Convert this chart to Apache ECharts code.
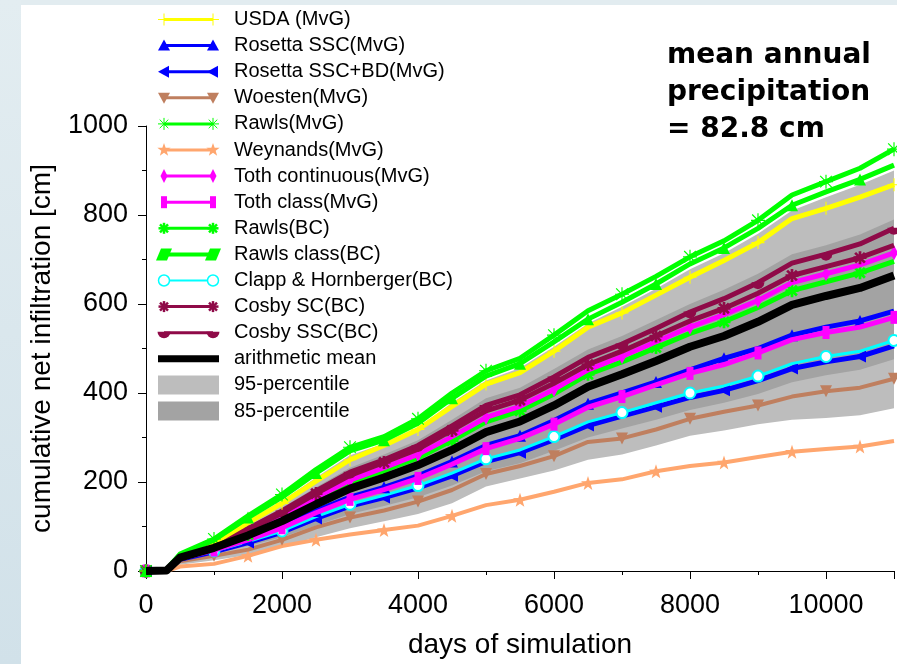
<!DOCTYPE html>
<html><head><meta charset="utf-8">
<script src="https://cdn.jsdelivr.net/npm/echarts@6/dist/echarts.min.js"></script>
<style>html,body{margin:0;padding:0;background:#fff}#c{width:897px;height:664px}</style>
</head><body><div id="c"></div>
<script>
// ---------------- data ----------------
const days = [0,300,500,1000,1500,2000,2500,3000,3500,4000,4500,5000,5500,6000,6500,7000,7500,8000,8500,9000,9500,10000,10500,11000];

const usda         = [0,2,34,64,108,152,202,250,282,318,370,420,446,494,548,580,620,660,698,738,792,815,840,868];
const rosettaSSC   = [0,0,28,48,72,100,135,166,188,214,246,282,304,338,376,400,425,452,478,500,530,548,562,584];
const rosettaSSCBD = [0,0,26,43,64,87,118,146,165,187,214,246,266,295,327,348,369,390,406,428,455,470,482,506];
const woesten      = [0,0,22,34,48,70,98,120,136,156,182,218,236,258,290,298,318,342,358,372,392,404,412,432];
const rawlsMvG     = [0,3,38,72,124,172,228,278,302,342,400,450,478,530,585,622,662,706,742,788,845,875,905,948];
const weynands     = [0,0,10,16,34,56,70,82,92,102,124,148,160,178,198,206,224,236,244,256,268,274,280,292];
const tothCont     = [0,2,32,56,84,122,165,204,232,262,302,345,370,408,452,482,515,548,576,608,648,668,688,715];
const tothClass    = [0,0,28,47,70,97,131,161,183,208,240,275,298,330,368,392,418,444,464,490,520,536,548,570];
const rawlsBC      = [0,2,32,55,82,118,160,198,226,254,293,335,360,398,442,470,502,534,560,592,630,650,670,696];
const rawlsClassBC = [0,2,36,70,120,166,220,270,294,332,388,438,466,515,566,604,645,690,726,770,822,852,880,912];
const clapp        = [0,0,27,45,66,90,122,150,170,192,220,252,272,302,335,356,378,400,416,438,466,482,494,518];
const cosbySC      = [0,2,32,58,92,130,174,215,244,274,316,360,384,422,464,494,528,562,590,624,664,684,704,732];
const cosbySSC     = [0,2,33,60,95,135,180,222,250,282,326,372,396,436,480,510,545,582,612,648,692,712,735,770];
const meanInf      = [0,1,30,52,80,112,150,185,210,238,272,312,336,372,414,442,472,504,528,560,598,618,636,664];

const p95Upper = [0,2,34,66,114,158,210,260,286,322,378,428,456,504,556,594,634,678,714,758,810,840,868,900];
const p95Lower = [0,0,14,24,36,54,76,96,112,128,152,190,208,226,250,262,282,304,316,330,340,344,350,366];
const p85Upper = [0,2,34,62,100,142,188,232,262,294,340,388,412,454,498,528,564,600,632,668,712,732,756,790];
const p85Lower = [0,0,22,38,56,76,102,128,146,166,192,224,242,270,300,320,340,362,378,398,424,440,452,476];

const xTicks = [0,2000,4000,6000,8000,10000];
const yTicks = [0,200,400,600,800,1000];

const annotation = ['mean annual', 'precipitation', '= 82.8 cm'];

// ---------------- styling ----------------
const FONT = "'Liberation Sans', Arial, sans-serif";
function starPath(ro, ri, c){
  let s = '';
  for (let k = 0; k < 10; k++) {
    const r = k % 2 ? ri : ro, a = -Math.PI/2 + k*Math.PI/5;
    s += (k ? 'L' : 'M') + (c + r*Math.cos(a)).toFixed(2) + ',' + (c + r*Math.sin(a)).toFixed(2);
  }
  return s + 'Z';
}
const SYM = {
  plus:    {symbol:'path://M5.5,0h1v5.5h5.5v1h-5.5v5.5h-1v-5.5h-5.5v-1h5.5z', size:13},
  triUp:   {symbol:'triangle', size:12},
  triLeft: {symbol:'triangle', size:12, rotate:90},
  triDown: {symbol:'triangle', size:12, rotate:180},
  ast:     {symbol:'path://M0,5.5h12v1h-12zM5.5,0h1v12h-1zM1.354,0.646L11.354,10.646L10.646,11.354L0.646,1.354zM10.646,0.646L11.354,1.354L1.354,11.354L0.646,10.646z', size:14},
  star:    {symbol:'path://' + starPath(6.5, 2.6, 6.5), size:14},
  diamond: {symbol:'diamond', size:[8,15]},
  rect:    {symbol:'rect', size:[7,13]},
  astFill: {symbol:'path://M0,4.75h12v2.5h-12zM4.75,0h2.5v12h-2.5zM2.384,0.616L11.384,9.616L9.616,11.384L0.616,2.384zM9.616,0.616L11.384,2.384L2.384,11.384L0.616,9.616z', size:13},
  para:    {symbol:'path://M4,0H14L10,10H0Z', size:[15,11]},
  circle:  {symbol:'emptyCircle', size:11},
  bowl:    {symbol:'path://M0,0L12,0L11.2,3L9,5.2L6,6L3,5.2L0.8,3Z', size:[13,7], offset:[0,3]}
};

const C = {yellow:'#ffff00', blue:'#0000ff', brown:'#bf7f5f', green:'#00ff00', orange:'#ffa66e',
           magenta:'#ff00ff', cyan:'#00ffff', maroon:'#8f0a48', black:'#000000', g95:'#bdbdbd', g85:'#a3a3a3'};

// draw order (bottom to top)
const lines = [
  {name:'Weynands(MvG)',          data:weynands,     color:C.orange,  width:4, sym:'star',    start:4, step:2},
  {name:'Woesten(MvG)',           data:woesten,      color:C.brown,   width:4, sym:'triDown', start:3, step:2},
  {name:'Rosetta SSC+BD(MvG)',    data:rosettaSSCBD, color:C.blue,    width:5, sym:'triLeft', start:4, step:2},
  {name:'Clapp & Hornberger(BC)', data:clapp,        color:C.cyan,    width:3, sym:'circle',  start:3, step:2},
  {name:'Rosetta SSC(MvG)',       data:rosettaSSC,   color:C.blue,    width:5, sym:'triUp',   start:4, step:2},
  {name:'Toth class(MvG)',        data:tothClass,    color:C.magenta, width:5, sym:'rect',    start:3, step:2},
  {name:'Rawls(BC)',              data:rawlsBC,      color:C.green,   width:5, sym:'astFill', start:4, step:2},
  {name:'Toth continuous(MvG)',   data:tothCont,     color:C.magenta, width:5, sym:'diamond', start:3, step:2},
  {name:'Cosby SC(BC)',           data:cosbySC,      color:C.maroon,  width:5, sym:'astFill', start:4, step:2},
  {name:'Cosby SSC(BC)',          data:cosbySSC,     color:C.maroon,  width:5, sym:'bowl',    start:3, step:2},
  {name:'USDA (MvG)',             data:usda,         color:C.yellow,  width:5, sym:'plus',    start:3, step:2},
  {name:'Rawls class(BC)',        data:rawlsClassBC, color:C.green,   width:5, sym:'triUp',   start:4, step:2},
  {name:'Rawls(MvG)',             data:rawlsMvG,     color:C.green,   width:5, sym:'ast',     start:3, step:2},
  {name:'arithmetic mean',        data:meanInf,      color:C.black,   width:8, sym:null}
];

function bandSeries(upper, lower, color, z){
  return {
    type:'custom', silent:true, z:z, clip:true,
    data:[[days[0], lower[0]]],
    encode:{x:0, y:1},
    renderItem:function(params, api){
      const pts = [];
      for (let i = 0; i < days.length; i++) pts.push(api.coord([days[i], upper[i]]));
      for (let i = days.length - 1; i >= 0; i--) pts.push(api.coord([days[i], lower[i]]));
      return {type:'polygon', shape:{points:pts}, style:{fill:color, stroke:null}};
    }
  };
}

const series = [bandSeries(p95Upper, p95Lower, C.g95, 1), bandSeries(p85Upper, p85Lower, C.g85, 1)];
lines.forEach((d, k) => {
  const s = d.sym ? SYM[d.sym] : null;
  series.push({
    type:'line', name:d.name, z:3 + k*0.01, silent:true,
    data: days.map((x, i) => {
      const item = {value:[x, d.data[i]]};
      const isMark = s && (i === 0 || (i >= d.start && (i - d.start) % d.step === 0));
      if (!isMark) item.symbol = 'none';
      return item;
    }),
    symbol: s ? s.symbol : 'none',
    symbolSize: s ? s.size : 0,
    symbolRotate: s && s.rotate ? s.rotate : 0,
    symbolOffset: s && s.offset ? s.offset : [0,0],
    symbolKeepAspect: false,
    showAllSymbol: true,
    lineStyle:{color:d.color, width:d.width, join:'round'},
    itemStyle:{color:d.color, borderWidth: d.sym === 'circle' ? 1.5 : 0},
    emphasis:{disabled:true}
  });
});

// ---------------- legend (graphic) ----------------
const legendRows = [
  {label:'USDA (MvG)',             color:C.yellow,  sym:'plus',    lw:3},
  {label:'Rosetta SSC(MvG)',       color:C.blue,    sym:'triUp',   lw:3},
  {label:'Rosetta SSC+BD(MvG)',    color:C.blue,    sym:'triLeft', lw:3},
  {label:'Woesten(MvG)',           color:C.brown,   sym:'triDown', lw:3},
  {label:'Rawls(MvG)',             color:C.green,   sym:'ast',     lw:3},
  {label:'Weynands(MvG)',          color:C.orange,  sym:'star',    lw:3},
  {label:'Toth continuous(MvG)',   color:C.magenta, sym:'diamond', lw:3},
  {label:'Toth class(MvG)',        color:C.magenta, sym:'rect',    lw:3},
  {label:'Rawls(BC)',              color:C.green,   sym:'astFill', lw:3},
  {label:'Rawls class(BC)',        color:C.green,   sym:'para',    lw:4},
  {label:'Clapp & Hornberger(BC)', color:C.cyan,    sym:'circle',  lw:2},
  {label:'Cosby SC(BC)',           color:C.maroon,  sym:'astFill', lw:3},
  {label:'Cosby SSC(BC)',          color:C.maroon,  sym:'bowl',    lw:3},
  {label:'arithmetic mean',        color:C.black,   sym:'bar'},
  {label:'95-percentile',          color:C.g95,     sym:'patch'},
  {label:'85-percentile',          color:C.g85,     sym:'patch'}
];

function marker(kind, cx, cy, col){
  const L = (x1,y1,x2,y2,w) => ({type:'line', shape:{x1,y1,x2,y2}, style:{stroke:col, lineWidth:w}});
  const P = pts => ({type:'polygon', shape:{points:pts}, style:{fill:col}});
  switch(kind){
    case 'plus': return [L(cx-6,cy,cx+6,cy,1), L(cx,cy-6,cx,cy+6,1)];
    case 'triUp': return [P([[cx,cy-6],[cx+6,cy+5],[cx-6,cy+5]])];
    case 'triLeft': return [P([[cx-6,cy],[cx+5,cy-6],[cx+5,cy+6]])];
    case 'triDown': return [P([[cx-6,cy-5],[cx+6,cy-5],[cx,cy+6]])];
    case 'ast': return [L(cx-6,cy,cx+6,cy,1), L(cx,cy-6,cx,cy+6,1), L(cx-4.3,cy-4.3,cx+4.3,cy+4.3,1), L(cx-4.3,cy+4.3,cx+4.3,cy-4.3,1)];
    case 'astFill': return [L(cx-5.5,cy,cx+5.5,cy,2.5), L(cx,cy-5.5,cx,cy+5.5,2.5), L(cx-4,cy-4,cx+4,cy+4,2.5), L(cx-4,cy+4,cx+4,cy-4,2.5)];
    case 'star': {
      const pts = [];
      for (let k = 0; k < 10; k++) { const r = k%2 ? 2.8 : 7, a = -Math.PI/2 + k*Math.PI/5; pts.push([cx + r*Math.cos(a), cy + r*Math.sin(a)]); }
      return [P(pts)];
    }
    case 'diamond': return [P([[cx,cy-7],[cx+3.5,cy],[cx,cy+7],[cx-3.5,cy]])];
    case 'rect': return [{type:'rect', shape:{x:cx-3,y:cy-6,width:6,height:12}, style:{fill:col}}];
    case 'para': return [P([[cx-3,cy-6],[cx+8,cy-6],[cx+3,cy+6],[cx-8,cy+6]])];
    case 'circle': return [{type:'circle', shape:{cx, cy, r:5.5}, style:{fill:'#fff', stroke:col, lineWidth:1.5}}];
    case 'bowl': return [{type:'sector', shape:{cx, cy:cy-1, r0:0, r:6.5, startAngle:0, endAngle:Math.PI, clockwise:true}, style:{fill:col}}];
  }
  return [];
}

const graphics = [
  {type:'rect', z:-10, silent:true, shape:{x:0, y:0, width:897, height:5}, style:{fill:'#e2ecf0'}},
  {type:'rect', z:-10, silent:true, shape:{x:0, y:0, width:21, height:664},
   style:{fill:new echarts.graphic.LinearGradient(0,0,0,1,[{offset:0,color:'#e3edf1'},{offset:1,color:'#d1e1e9'}])}}
];
const LX1 = 164, LX2 = 213, TX = 234, Y0 = 19.5, DY = 26.1;
legendRows.forEach((r, i) => {
  const y = Y0 + i*DY;
  if (r.sym === 'patch') {
    graphics.push({type:'rect', z:10, shape:{x:158, y:y-9.5, width:61, height:19}, style:{fill:r.color}});
  } else if (r.sym === 'bar') {
    graphics.push({type:'rect', z:10, shape:{x:158, y:y-3.5, width:61, height:7}, style:{fill:r.color}});
  } else {
    graphics.push({type:'line', z:10, shape:{x1:LX1, y1:y, x2:LX2, y2:y}, style:{stroke:r.color, lineWidth:r.lw}});
    marker(r.sym, LX1, y, r.color).concat(marker(r.sym, LX2, y, r.color)).forEach(e => { e.z = 11; graphics.push(e); });
  }
  graphics.push({type:'text', z:11, style:{text:r.label, x:TX, y:y, verticalAlign:'middle', align:'left',
    fontSize:20, fontFamily:FONT, fill:'#000'}});
});
annotation.forEach((t, i) => {
  graphics.push({type:'text', z:11, style:{text:t, x:667, y:56 + i*37, verticalAlign:'middle', align:'left',
    fontSize:28, fontWeight:'bold', fontFamily:"'DejaVu Sans', sans-serif", fill:'#000'}});
});

const axisCommon = {
  axisLine:{show:true, lineStyle:{color:'#000', width:1}},
  axisTick:{show:true, length:8, lineStyle:{color:'#000', width:1}},
  minorTick:{show:true, splitNumber:2, length:4, lineStyle:{color:'#000', width:1}},
  splitLine:{show:false},
  nameTextStyle:{fontSize:28, fontFamily:FONT, color:'#000'}
};

const chart = echarts.init(document.getElementById('c'), null, {renderer:'canvas'});
chart.setOption({
  animation:false,
  backgroundColor:'#ffffff',
  grid:{left:146, right:2, top:126, bottom:91, containLabel:false},
  xAxis:Object.assign({}, axisCommon, {
    type:'value', min:xTicks[0], max:11000, interval:xTicks[1]-xTicks[0],
    name:'days of simulation', nameLocation:'middle', nameGap:60,
    axisLabel:{fontSize:27, fontFamily:FONT, color:'#000', margin:21,
      formatter:v => xTicks.indexOf(v) >= 0 ? String(v) : ''}
  }),
  yAxis:Object.assign({}, axisCommon, {
    type:'value', min:yTicks[0], max:yTicks[yTicks.length-1], interval:yTicks[1]-yTicks[0],
    name:'cumulative net infiltration [cm]', nameLocation:'middle', nameGap:90, nameRotate:90,
    axisLabel:{fontSize:27, fontFamily:FONT, color:'#000', margin:18, formatter:v => String(v)}
  }),
  graphic:{elements:graphics},
  series:series
});
</script></body></html>
